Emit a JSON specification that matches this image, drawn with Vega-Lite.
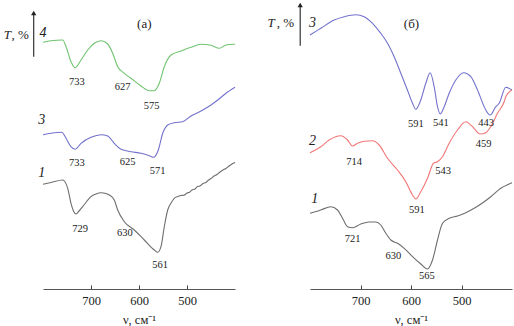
{
  "$schema": "https://vega.github.io/schema/vega-lite/v6.json",
  "padding": {"left": 3, "top": 0, "right": 0, "bottom": 0},
  "bounds": "flush",
  "spacing": 75,
  "config": {
    "view": {"stroke": null},
    "font": "Liberation Serif",
    "text": {"font": "Liberation Serif", "color": "#222"},
    "axis": {"grid": false}
  },
  "datasets": {
    "curves": [
      {"p":"a","c":"4","wn":800,"t":246.7},{"p":"a","c":"4","wn":783.3,"t":248.3},{"p":"a","c":"4","wn":759,"t":249},{"p":"a","c":"4","wn":752,"t":242.3},{"p":"a","c":"4","wn":741.7,"t":227.3},{"p":"a","c":"4","wn":733.3,"t":221.3},{"p":"a","c":"4","wn":720.8,"t":229},{"p":"a","c":"4","wn":706.9,"t":239},{"p":"a","c":"4","wn":693.1,"t":245.7},{"p":"a","c":"4","wn":679.2,"t":248.3},{"p":"a","c":"4","wn":665.2,"t":245},{"p":"a","c":"4","wn":654.8,"t":235.7},{"p":"a","c":"4","wn":644.4,"t":222.3},{"p":"a","c":"4","wn":630.6,"t":215.7},{"p":"a","c":"4","wn":616.7,"t":210.7},{"p":"a","c":"4","wn":595.8,"t":203},{"p":"a","c":"4","wn":578.5,"t":198.3},{"p":"a","c":"4","wn":568.1,"t":198.3},{"p":"a","c":"4","wn":557.7,"t":205.7},{"p":"a","c":"4","wn":547.3,"t":222.3},{"p":"a","c":"4","wn":533.3,"t":234},{"p":"a","c":"4","wn":512.5,"t":238},{"p":"a","c":"4","wn":491.7,"t":241.7},{"p":"a","c":"4","wn":470.8,"t":244.7},{"p":"a","c":"4","wn":450,"t":243.7},{"p":"a","c":"4","wn":432.7,"t":240.7},{"p":"a","c":"4","wn":418.75,"t":244},{"p":"a","c":"4","wn":400,"t":244.7},
      {"p":"a","c":"3","wn":800,"t":154.3},{"p":"a","c":"3","wn":783.3,"t":155.7},{"p":"a","c":"3","wn":761,"t":156.7},{"p":"a","c":"3","wn":752,"t":150.7},{"p":"a","c":"3","wn":741.7,"t":142.3},{"p":"a","c":"3","wn":733.3,"t":139.7},{"p":"a","c":"3","wn":720.8,"t":145.7},{"p":"a","c":"3","wn":700,"t":151.7},{"p":"a","c":"3","wn":679.2,"t":154.3},{"p":"a","c":"3","wn":665.2,"t":153},{"p":"a","c":"3","wn":651.5,"t":145.7},{"p":"a","c":"3","wn":637.5,"t":139.7},{"p":"a","c":"3","wn":616.7,"t":137.3},{"p":"a","c":"3","wn":595.8,"t":135.7},{"p":"a","c":"3","wn":578.5,"t":133.3},{"p":"a","c":"3","wn":569.4,"t":131.7},{"p":"a","c":"3","wn":559.8,"t":139},{"p":"a","c":"3","wn":550.6,"t":155.7},{"p":"a","c":"3","wn":540.2,"t":164},{"p":"a","c":"3","wn":526.5,"t":166.3},{"p":"a","c":"3","wn":509,"t":167.3},{"p":"a","c":"3","wn":491.7,"t":173},{"p":"a","c":"3","wn":470.8,"t":178},{"p":"a","c":"3","wn":450,"t":184},{"p":"a","c":"3","wn":436,"t":189},{"p":"a","c":"3","wn":418.75,"t":195.7},{"p":"a","c":"3","wn":400,"t":201.7},
      {"p":"a","c":"1","wn":800,"t":104.7},{"p":"a","c":"1","wn":783.3,"t":106.5},{"p":"a","c":"1","wn":759,"t":109},{"p":"a","c":"1","wn":748.5,"t":100.7},{"p":"a","c":"1","wn":741.7,"t":85.7},{"p":"a","c":"1","wn":736.5,"t":78},{"p":"a","c":"1","wn":731.3,"t":75},{"p":"a","c":"1","wn":725,"t":78},{"p":"a","c":"1","wn":717.3,"t":82.3},{"p":"a","c":"1","wn":708.3,"t":88},{"p":"a","c":"1","wn":700,"t":92.3},{"p":"a","c":"1","wn":689.6,"t":95},{"p":"a","c":"1","wn":679.2,"t":96.3},{"p":"a","c":"1","wn":668.75,"t":95.5},{"p":"a","c":"1","wn":661.9,"t":94},{"p":"a","c":"1","wn":651.5,"t":89},{"p":"a","c":"1","wn":644.4,"t":79},{"p":"a","c":"1","wn":630.6,"t":67.3},{"p":"a","c":"1","wn":609.8,"t":59},{"p":"a","c":"1","wn":588.9,"t":49},{"p":"a","c":"1","wn":568.1,"t":39},{"p":"a","c":"1","wn":561,"t":36.7},{"p":"a","c":"1","wn":554.2,"t":42.3},{"p":"a","c":"1","wn":547.3,"t":62.3},{"p":"a","c":"1","wn":540.2,"t":79},{"p":"a","c":"1","wn":533.3,"t":86},{"p":"a","c":"1","wn":526.5,"t":90.7},{"p":"a","c":"1","wn":518.75,"t":92.5},{"p":"a","c":"1","wn":512.5,"t":93.5},{"p":"a","c":"1","wn":506.25,"t":93.8},{"p":"a","c":"1","wn":500,"t":96},{"p":"a","c":"1","wn":494.8,"t":96.8},{"p":"a","c":"1","wn":489.6,"t":99},{"p":"a","c":"1","wn":483.3,"t":100},{"p":"a","c":"1","wn":478.1,"t":102.5},{"p":"a","c":"1","wn":472.9,"t":103},{"p":"a","c":"1","wn":466.7,"t":105.5},{"p":"a","c":"1","wn":460.4,"t":106.5},{"p":"a","c":"1","wn":455.2,"t":109},{"p":"a","c":"1","wn":450,"t":110.5},{"p":"a","c":"1","wn":443.75,"t":113},{"p":"a","c":"1","wn":437.5,"t":114.5},{"p":"a","c":"1","wn":431.25,"t":117},{"p":"a","c":"1","wn":425,"t":119},{"p":"a","c":"1","wn":418.75,"t":120.5},{"p":"a","c":"1","wn":412.5,"t":123},{"p":"a","c":"1","wn":406.25,"t":125},{"p":"a","c":"1","wn":400,"t":126.5},
      {"p":"b","c":"3","wn":800,"t":254},{"p":"b","c":"3","wn":778.6,"t":260.7},{"p":"b","c":"3","wn":752.1,"t":269},{"p":"b","c":"3","wn":732.3,"t":272.3},{"p":"b","c":"3","wn":709.3,"t":274.3},{"p":"b","c":"3","wn":692.7,"t":272.3},{"p":"b","c":"3","wn":676.2,"t":265.7},{"p":"b","c":"3","wn":659.8,"t":255.7},{"p":"b","c":"3","wn":646.5,"t":245.7},{"p":"b","c":"3","wn":633.3,"t":232.3},{"p":"b","c":"3","wn":620.2,"t":215.7},{"p":"b","c":"3","wn":607.1,"t":199},{"p":"b","c":"3","wn":597,"t":185.7},{"p":"b","c":"3","wn":590.5,"t":179.7},{"p":"b","c":"3","wn":580.6,"t":189},{"p":"b","c":"3","wn":570.7,"t":205.7},{"p":"b","c":"3","wn":562,"t":216.3},{"p":"b","c":"3","wn":554.1,"t":202.3},{"p":"b","c":"3","wn":547.5,"t":182.3},{"p":"b","c":"3","wn":542.2,"t":175},{"p":"b","c":"3","wn":534.3,"t":182.3},{"p":"b","c":"3","wn":524.4,"t":195.7},{"p":"b","c":"3","wn":511.3,"t":209},{"p":"b","c":"3","wn":496,"t":216.3},{"p":"b","c":"3","wn":481.6,"t":212.3},{"p":"b","c":"3","wn":468.3,"t":199},{"p":"b","c":"3","wn":455.1,"t":182.3},{"p":"b","c":"3","wn":451.9,"t":179},{"p":"b","c":"3","wn":443.2,"t":174},{"p":"b","c":"3","wn":432.1,"t":182.3},{"p":"b","c":"3","wn":425.4,"t":185.7},{"p":"b","c":"3","wn":412.3,"t":201.7},{"p":"b","c":"3","wn":402.4,"t":199.7},{"p":"b","c":"3","wn":400,"t":199},
      {"p":"b","c":"2","wn":800,"t":136.3},{"p":"b","c":"2","wn":778.6,"t":142.3},{"p":"b","c":"2","wn":762,"t":149},{"p":"b","c":"2","wn":739,"t":153.3},{"p":"b","c":"2","wn":725.7,"t":149},{"p":"b","c":"2","wn":715.8,"t":143},{"p":"b","c":"2","wn":705.9,"t":145.7},{"p":"b","c":"2","wn":692.7,"t":147.7},{"p":"b","c":"2","wn":676.2,"t":148.3},{"p":"b","c":"2","wn":663,"t":144},{"p":"b","c":"2","wn":646.5,"t":130.7},{"p":"b","c":"2","wn":626.7,"t":119},{"p":"b","c":"2","wn":610.3,"t":107.3},{"p":"b","c":"2","wn":597,"t":94},{"p":"b","c":"2","wn":590.5,"t":90},{"p":"b","c":"2","wn":580.6,"t":97.3},{"p":"b","c":"2","wn":567.3,"t":110.7},{"p":"b","c":"2","wn":555.4,"t":125.7},{"p":"b","c":"2","wn":547.5,"t":127.3},{"p":"b","c":"2","wn":537.6,"t":132.3},{"p":"b","c":"2","wn":524.4,"t":145.7},{"p":"b","c":"2","wn":507.9,"t":159},{"p":"b","c":"2","wn":491.5,"t":167.3},{"p":"b","c":"2","wn":478.2,"t":162.3},{"p":"b","c":"2","wn":463,"t":155},{"p":"b","c":"2","wn":451.9,"t":156.3},{"p":"b","c":"2","wn":442,"t":162.3},{"p":"b","c":"2","wn":428.7,"t":175.7},{"p":"b","c":"2","wn":415.5,"t":187.3},{"p":"b","c":"2","wn":412.3,"t":192.3},{"p":"b","c":"2","wn":400,"t":199},
      {"p":"b","c":"1","wn":800,"t":75.7},{"p":"b","c":"1","wn":778.6,"t":79},{"p":"b","c":"1","wn":758.8,"t":82.3},{"p":"b","c":"1","wn":745.5,"t":79},{"p":"b","c":"1","wn":735.6,"t":70.7},{"p":"b","c":"1","wn":725.7,"t":62.3},{"p":"b","c":"1","wn":715.8,"t":61.3},{"p":"b","c":"1","wn":699.4,"t":65},{"p":"b","c":"1","wn":682.8,"t":67},{"p":"b","c":"1","wn":669.7,"t":67},{"p":"b","c":"1","wn":659.8,"t":64},{"p":"b","c":"1","wn":649.9,"t":55.7},{"p":"b","c":"1","wn":640,"t":49},{"p":"b","c":"1","wn":626.7,"t":45.7},{"p":"b","c":"1","wn":613.5,"t":40.7},{"p":"b","c":"1","wn":597,"t":32.3},{"p":"b","c":"1","wn":580.6,"t":25},{"p":"b","c":"1","wn":567.3,"t":20},{"p":"b","c":"1","wn":557.4,"t":29},{"p":"b","c":"1","wn":547.5,"t":49},{"p":"b","c":"1","wn":537.6,"t":65.7},{"p":"b","c":"1","wn":524.4,"t":70.7},{"p":"b","c":"1","wn":507.9,"t":73},{"p":"b","c":"1","wn":491.5,"t":76.3},{"p":"b","c":"1","wn":474.9,"t":80.7},{"p":"b","c":"1","wn":455.1,"t":87.3},{"p":"b","c":"1","wn":442,"t":92.3},{"p":"b","c":"1","wn":422.2,"t":100.7},{"p":"b","c":"1","wn":402.4,"t":105.7},{"p":"b","c":"1","wn":400,"t":106.3}
    ],
    "labels": [
      {"p":"a","k":"num","wn":800,"t":255.7,"text":"4"},
      {"p":"a","k":"num","wn":802.7,"t":169,"text":"3"},
      {"p":"a","k":"num","wn":802.7,"t":116.3,"text":"1"},
      {"p":"a","k":"peak","wn":729.2,"t":207,"text":"733"},
      {"p":"a","k":"peak","wn":634,"t":202.3,"text":"627"},
      {"p":"a","k":"peak","wn":573.5,"t":183.3,"text":"575"},
      {"p":"a","k":"peak","wn":729.2,"t":125.7,"text":"733"},
      {"p":"a","k":"peak","wn":623.5,"t":126.7,"text":"625"},
      {"p":"a","k":"peak","wn":561,"t":118.3,"text":"571"},
      {"p":"a","k":"peak","wn":722.9,"t":59.7,"text":"729"},
      {"p":"a","k":"peak","wn":629.2,"t":55.7,"text":"630"},
      {"p":"a","k":"peak","wn":556.25,"t":23.7,"text":"561"},
      {"p":"a","k":"panel","wn":588.9,"t":264.7,"text":"(а)"},
      {"p":"a","k":"T","wn":881.9,"t":254,"text":"T"},
      {"p":"a","k":"pct","wn":865.6,"t":254,"text":", %"},
      {"p":"b","k":"num","wn":795,"t":266.3,"text":"3"},
      {"p":"b","k":"num","wn":795,"t":148.3,"text":"2"},
      {"p":"b","k":"num","wn":790.5,"t":89.7,"text":"1"},
      {"p":"b","k":"peak","wn":590.5,"t":165,"text":"591"},
      {"p":"b","k":"peak","wn":541,"t":166.3,"text":"541"},
      {"p":"b","k":"peak","wn":451,"t":166.3,"text":"443"},
      {"p":"b","k":"peak","wn":712.5,"t":127.3,"text":"714"},
      {"p":"b","k":"peak","wn":588.5,"t":79,"text":"591"},
      {"p":"b","k":"peak","wn":536.2,"t":118.3,"text":"543"},
      {"p":"b","k":"peak","wn":456.4,"t":145,"text":"459"},
      {"p":"b","k":"peak","wn":715.8,"t":49.7,"text":"721"},
      {"p":"b","k":"peak","wn":634.7,"t":33.3,"text":"630"},
      {"p":"b","k":"peak","wn":568.7,"t":13.3,"text":"565"},
      {"p":"b","k":"panel","wn":599,"t":264.7,"text":"(б)"},
      {"p":"b","k":"T","wn":884.2,"t":266.3,"text":"T"},
      {"p":"b","k":"pct","wn":865.7,"t":266.3,"text":", %"}
    ],
    "arrows": [
      {"p":"a","wn":819.4,"t":232.3,"t2":276},
      {"p":"b","wn":819.4,"t":243.3,"t2":284}
    ]
  },
  "hconcat": [
    {
      "width": 192,
      "height": 289,
      "encoding": {
        "x": {"field":"wn","type":"quantitative","scale":{"domain":[800,400],"nice":false,"zero":false},
              "axis":{"values":[700,600,500],"tickSize":-4,"tickColor":"#444","domainColor":"#555","domainWidth":1,"labelFont":"Liberation Serif","labelFontSize":12.5,"labelColor":"#222","labelPadding":9,"title":"ν, см⁻¹","titleFont":"Liberation Serif","titleFontSize":12.5,"titleFontWeight":"normal","titleColor":"#222","titlePadding":7}},
        "y": {"field":"t","type":"quantitative","scale":{"domain":[0,289],"nice":false,"zero":false},"axis":null}
      },
      "layer": [
        {"data":{"name":"curves"},"transform":[{"filter":"datum.p==='a'"}],
         "mark":{"type":"line","interpolate":"monotone","strokeWidth":1.1},
         "encoding":{"color":{"field":"c","type":"nominal","scale":{"domain":["1","2","3","4"],"range":["#6e6e6e","#f27676","#7272cc","#6fc46f"]},"legend":null},"detail":{"field":"c"}}},
        {"data":{"name":"arrows"},"transform":[{"filter":"datum.p==='a'"}],
         "mark":{"type":"rule","color":"#333","strokeWidth":1.2},
         "encoding":{"y2":{"field":"t2"}}},
        {"data":{"name":"arrows"},"transform":[{"filter":"datum.p==='a'"}],
         "mark":{"type":"point","shape":"triangle-up","filled":true,"color":"#222","size":28,"opacity":1},
         "encoding":{"y":{"field":"t2","type":"quantitative"}}},
        {"data":{"name":"labels"},"transform":[{"filter":"datum.p==='a' && datum.k==='num'"}],
         "mark":{"type":"text","font":"Liberation Serif","fontStyle":"italic","fontSize":14,"baseline":"middle","color":"#222"},
         "encoding":{"text":{"field":"text"}}},
        {"data":{"name":"labels"},"transform":[{"filter":"datum.p==='a' && datum.k==='peak'"}],
         "mark":{"type":"text","font":"Liberation Serif","fontSize":10.5,"baseline":"middle","color":"#222"},
         "encoding":{"text":{"field":"text"}}},
        {"data":{"name":"labels"},"transform":[{"filter":"datum.p==='a' && datum.k==='panel'"}],
         "mark":{"type":"text","font":"Liberation Serif","fontSize":13,"baseline":"middle","color":"#222"},
         "encoding":{"text":{"field":"text"}}},
        {"data":{"name":"labels"},"transform":[{"filter":"datum.p==='a' && datum.k==='T'"}],
         "mark":{"type":"text","font":"Liberation Serif","fontSize":13,"fontStyle":"italic","align":"left","baseline":"middle","color":"#222"},
         "encoding":{"text":{"field":"text"}}},
        {"data":{"name":"labels"},"transform":[{"filter":"datum.p==='a' && datum.k==='pct'"}],
         "mark":{"type":"text","font":"Liberation Serif","fontSize":13,"align":"left","baseline":"middle","color":"#222"},
         "encoding":{"text":{"field":"text"}}}
      ]
    },
    {
      "width": 202,
      "height": 289,
      "encoding": {
        "x": {"field":"wn","type":"quantitative","scale":{"domain":[800,400],"nice":false,"zero":false},
              "axis":{"values":[700,600,500],"tickSize":-4,"tickColor":"#444","domainColor":"#555","domainWidth":1,"labelFont":"Liberation Serif","labelFontSize":12.5,"labelColor":"#222","labelPadding":9,"title":"ν, см⁻¹","titleFont":"Liberation Serif","titleFontSize":12.5,"titleFontWeight":"normal","titleColor":"#222","titlePadding":7}},
        "y": {"field":"t","type":"quantitative","scale":{"domain":[0,289],"nice":false,"zero":false},"axis":null}
      },
      "layer": [
        {"data":{"name":"curves"},"transform":[{"filter":"datum.p==='b'"}],
         "mark":{"type":"line","interpolate":"monotone","strokeWidth":1.1},
         "encoding":{"color":{"field":"c","type":"nominal","scale":{"domain":["1","2","3","4"],"range":["#6e6e6e","#f27676","#7272cc","#6fc46f"]},"legend":null},"detail":{"field":"c"}}},
        {"data":{"name":"arrows"},"transform":[{"filter":"datum.p==='b'"}],
         "mark":{"type":"rule","color":"#333","strokeWidth":1.2},
         "encoding":{"y2":{"field":"t2"}}},
        {"data":{"name":"arrows"},"transform":[{"filter":"datum.p==='b'"}],
         "mark":{"type":"point","shape":"triangle-up","filled":true,"color":"#222","size":28,"opacity":1},
         "encoding":{"y":{"field":"t2","type":"quantitative"}}},
        {"data":{"name":"labels"},"transform":[{"filter":"datum.p==='b' && datum.k==='num'"}],
         "mark":{"type":"text","font":"Liberation Serif","fontStyle":"italic","fontSize":14,"baseline":"middle","color":"#222"},
         "encoding":{"text":{"field":"text"}}},
        {"data":{"name":"labels"},"transform":[{"filter":"datum.p==='b' && datum.k==='peak'"}],
         "mark":{"type":"text","font":"Liberation Serif","fontSize":10.5,"baseline":"middle","color":"#222"},
         "encoding":{"text":{"field":"text"}}},
        {"data":{"name":"labels"},"transform":[{"filter":"datum.p==='b' && datum.k==='panel'"}],
         "mark":{"type":"text","font":"Liberation Serif","fontSize":13,"baseline":"middle","color":"#222"},
         "encoding":{"text":{"field":"text"}}},
        {"data":{"name":"labels"},"transform":[{"filter":"datum.p==='b' && datum.k==='T'"}],
         "mark":{"type":"text","font":"Liberation Serif","fontSize":13,"fontStyle":"italic","align":"left","baseline":"middle","color":"#222"},
         "encoding":{"text":{"field":"text"}}},
        {"data":{"name":"labels"},"transform":[{"filter":"datum.p==='b' && datum.k==='pct'"}],
         "mark":{"type":"text","font":"Liberation Serif","fontSize":13,"align":"left","baseline":"middle","color":"#222"},
         "encoding":{"text":{"field":"text"}}}
      ]
    }
  ]
}
